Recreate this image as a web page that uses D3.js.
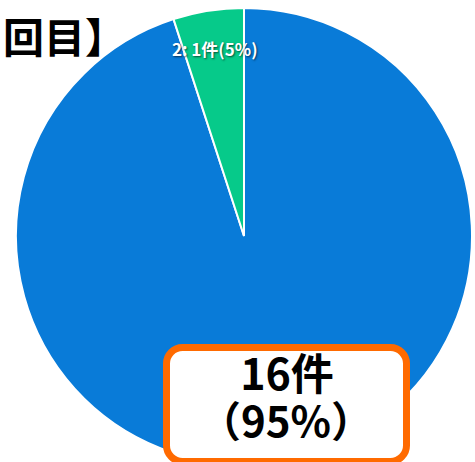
<!DOCTYPE html>
<html lang="ja">
<head>
<meta charset="UTF-8" />
<script src="https://d3js.org/d3.v7.min.js"></script>
<style>
  body { margin: 0; background: #fff; }
  text { font-family: "Noto Sans CJK JP", "Noto Sans", sans-serif; }
</style>
</head>
<body>
<svg width="475" height="462"></svg>
<script>
  // data
  const categories = ["1", "2"];
  const counts = [16, 1];
  const percents = [95, 5];
  const colors = ["#097bd8", "#06ca8a"];
  const titleText = "回目】";

  const svg = d3.select("svg");
  const cx = 244, cy = 236, r = 228;

  const pie = d3.pie().sort(null).value((d, i) => percents[i]);
  const arcs = pie(categories);
  const arc = d3.arc().innerRadius(0).outerRadius(r);

  const g = svg.append("g").attr("transform", `translate(${cx},${cy})`);

  g.selectAll("path")
    .data(arcs)
    .join("path")
    .attr("d", arc)
    .attr("fill", (d, i) => colors[i])
    .attr("stroke", "#fff")
    .attr("stroke-width", 2);

  // small slice label
  const labelArc = d3.arc().innerRadius(r * 0.82).outerRadius(r * 0.82);
  const small = arcs[1];
  const [lx, ly] = labelArc.centroid(small);
  g.append("text")
    .attr("x", lx)
    .attr("y", ly)
    .attr("text-anchor", "middle")
    .attr("dominant-baseline", "middle")
    .attr("fill", "#fff")
    .attr("font-size", 17)
    .attr("font-weight", "bold")
    .style("text-shadow", "1px 1px 2px rgba(0,0,0,0.6)")
    .text(`${categories[1]}: ${counts[1]}件(${percents[1]}%)`);

  // title (cut off on the left)
  svg.append("text")
    .attr("x", 126)
    .attr("y", 53)
    .attr("text-anchor", "end")
    .attr("font-size", 41)
    .attr("font-weight", "bold")
    .attr("fill", "#000")
    .text(titleText);

  // callout box for the big slice
  const box = svg.append("g");
  box.append("rect")
    .attr("x", 166.5)
    .attr("y", 347.5)
    .attr("width", 240)
    .attr("height", 114)
    .attr("rx", 16)
    .attr("fill", "#fff")
    .attr("stroke", "#ff6a00")
    .attr("stroke-width", 7);

  const callout = box.append("text")
    .attr("text-anchor", "middle")
    .attr("font-weight", "bold")
    .attr("fill", "#000");

  callout.append("tspan")
    .attr("x", 287)
    .attr("y", 390)
    .attr("font-size", 43)
    .text(`${counts[0]}件`);

  callout.append("tspan")
    .attr("x", 286)
    .attr("y", 437)
    .attr("font-size", 42)
    .text(`（${percents[0]}%）`);
</script>
</body>
</html>
